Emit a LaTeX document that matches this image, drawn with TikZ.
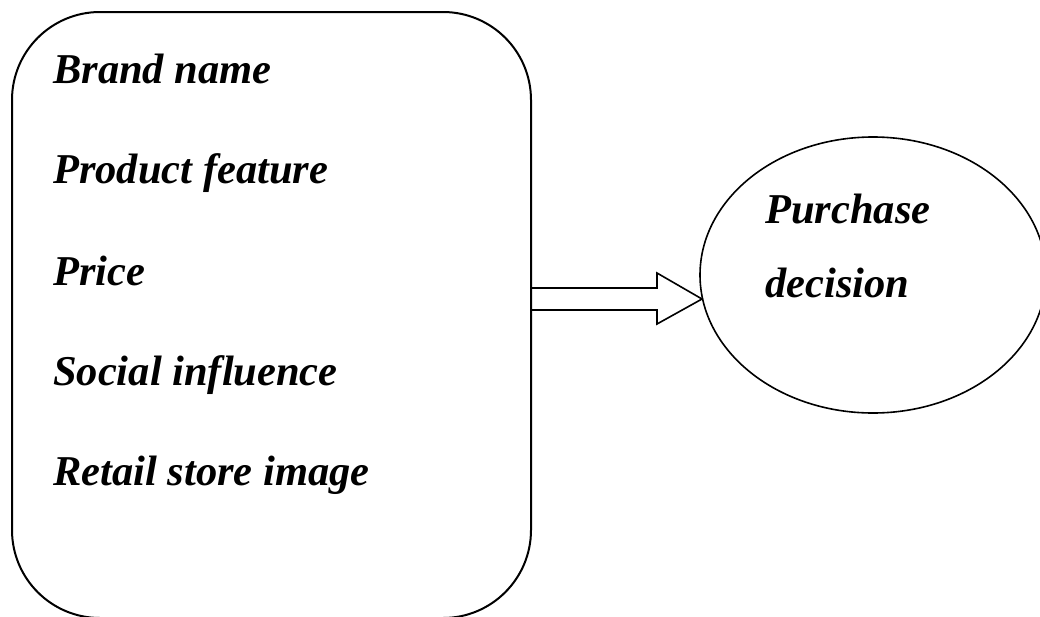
\documentclass[tikz,border=0pt]{standalone}
\usepackage{fontspec}
\setmainfont{Liberation Serif}
\usetikzlibrary{shapes.geometric}
\begin{document}
\begin{tikzpicture}[x=1pt,y=-1pt,
  lbl/.style={anchor=base west,inner sep=0pt,font=\fontsize{42.5}{50}\selectfont\bfseries\itshape},
  frame/.style={draw,line width=2pt,rounded corners=88pt,inner sep=0pt},
  oval/.style={draw,ellipse,line width=1.6pt,inner sep=0pt}]
\useasboundingbox (0,0) rectangle (1040,616);
\begin{scope}
\clip (0,0) rectangle (1040,616);
\node[frame,minimum width=519pt,minimum height=606pt] (box) at (271.5,315) {};
\node[oval,minimum width=346pt,minimum height=276pt] (dec) at (873,275) {};
\end{scope}
\node[lbl] (t1) at (53,83) {Brand name};
\node[lbl] (t2) at (53,183) {Product feature};
\node[lbl] (t3) at (53,285) {Price};
\node[lbl] (t4) at (53,385) {Social influence};
\node[lbl] (t5) at (53,485) {Retail store image};
\node[lbl] (p1) at (765,223) {Purchase};
\node[lbl] (p2) at (765,297) {decision};
\coordinate (s1) at (box.east |- 0,288);
\coordinate (s2) at (box.east |- 0,310);
\coordinate (tip) at (702,299);
\draw[line width=1.6pt,line join=miter] (s1) -- (657,288) -- (657,273) -- (tip) -- (657,324) -- (657,310) -- (s2);
\end{tikzpicture}
\end{document}
